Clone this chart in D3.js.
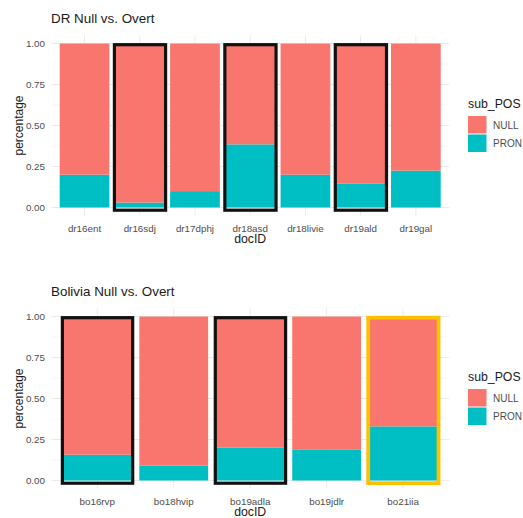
<!DOCTYPE html>
<html lang="en">
<head>
  <meta charset="UTF-8">
  <title>Null vs. Overt</title>
  <style>
    body { margin: 0; background: #fff; }
    text { font-family: "Liberation Sans", Arial, sans-serif; }
  </style>
</head>
<body>
  <script src="https://d3js.org/d3.v7.min.js"></script>
  <script>
    // data
    let drDocs = ["dr16ent", "dr16sdj", "dr17dphj", "dr18asd", "dr18livie", "dr19ald", "dr19gal"];
    let drPron = [0.20, 0.03, 0.10, 0.385, 0.20, 0.147, 0.225];
    let drMarked = ["dr16sdj", "dr18asd", "dr19ald"];

    let boDocs = ["bo16rvp", "bo18hvip", "bo19adla", "bo19jdlr", "bo21iia"];
    let boPron = [0.157, 0.09, 0.20, 0.187, 0.33];
    let boMarked = ["bo16rvp", "bo19adla"];
    let boGold = ["bo21iia"];

    let subPos = ["NULL", "PRON"];
    let yTicks = [0, 0.25, 0.5, 0.75, 1];

    let colors = { NULL: "#F8766D", PRON: "#00BFC4" };

    let svg = d3.select("body")
      .append("svg")
      .attr("width", 523)
      .attr("height", 518);

    function drawPanel(top, title, docs, pron, marked, gold) {
      let g = svg.append("g");

      let panelLeft = 51.4, panelRight = 449;
      let y = d3.scaleLinear().domain([0, 1]).range([top + 172.5, top + 8.5]);
      let panelTop = y(1.05), panelBottom = y(-0.05);

      let x = d3.scaleBand()
        .domain(docs)
        .range([panelLeft, panelRight])
        .paddingInner(0.1)
        .paddingOuter(0.15);

      // grid
      let minor = [0.125, 0.375, 0.625, 0.875];
      g.selectAll(".minor").data(minor).enter().append("line")
        .attr("x1", panelLeft).attr("x2", panelRight)
        .attr("y1", d => y(d)).attr("y2", d => y(d))
        .attr("stroke", "#f3f3f3").attr("stroke-width", 0.6);
      g.selectAll(".major").data(yTicks).enter().append("line")
        .attr("x1", panelLeft).attr("x2", panelRight)
        .attr("y1", d => y(d)).attr("y2", d => y(d))
        .attr("stroke", "#ebebeb").attr("stroke-width", 1);
      g.selectAll(".vgrid").data(docs).enter().append("line")
        .attr("x1", d => x(d) + x.bandwidth() / 2).attr("x2", d => x(d) + x.bandwidth() / 2)
        .attr("y1", panelTop).attr("y2", panelBottom)
        .attr("stroke", "#ebebeb").attr("stroke-width", 1);

      // stacked bars
      let rows = docs.map((d, i) => ({ doc: d, PRON: pron[i], NULL: 1 - pron[i] }));
      let stack = d3.stack().keys(["PRON", "NULL"])(rows);
      g.selectAll(".layer").data(stack).enter().append("g")
        .attr("fill", s => colors[s.key])
        .selectAll("rect").data(s => s).enter().append("rect")
        .attr("x", d => x(d.data.doc))
        .attr("width", x.bandwidth())
        .attr("y", d => y(d[1]))
        .attr("height", d => y(d[0]) - y(d[1]));

      // hand-drawn highlight boxes
      function box(list, color, w) {
        g.selectAll(null).data(list).enter().append("rect")
          .attr("x", d => x(d) - 0.5)
          .attr("width", x.bandwidth() + 1.5)
          .attr("y", y(1) + 1.2)
          .attr("height", y(0) - y(1) + 1.5)
          .attr("fill", "none")
          .attr("stroke", color)
          .attr("stroke-width", w);
      }
      box(marked, "#111", 3.2);
      box(gold, "#FFC000", 3.8);

      // y axis labels
      g.selectAll(".ytick").data(yTicks).enter().append("text")
        .attr("x", 45).attr("y", d => y(d)).attr("dy", "0.35em")
        .attr("text-anchor", "end")
        .attr("font-size", 9.8).attr("fill", "#4d4d4d")
        .text(d3.format(".2f"));

      // x axis labels
      g.selectAll(".xtick").data(docs).enter().append("text")
        .attr("x", d => x(d) + x.bandwidth() / 2)
        .attr("y", panelBottom + 16)
        .attr("text-anchor", "middle")
        .attr("font-size", 9.8).attr("fill", "#4d4d4d")
        .text(d => d);

      g.append("text")
        .attr("x", (panelLeft + panelRight) / 2)
        .attr("y", panelBottom + 27.5)
        .attr("text-anchor", "middle")
        .attr("font-size", 12.3).attr("fill", "#1a1a1a")
        .text("docID");

      g.append("text")
        .attr("transform", "translate(22.5," + y(0.5) + ") rotate(-90)")
        .attr("text-anchor", "middle")
        .attr("font-size", 12).attr("fill", "#1a1a1a")
        .text("percentage");

      g.append("text")
        .attr("x", 51).attr("y", top - 12)
        .attr("font-size", 13.4).attr("fill", "#1a1a1a")
        .text(title);

      // legend
      let lg = g.append("g").attr("transform", "translate(468," + (top + 73) + ")");
      lg.append("text").attr("x", 0).attr("y", 0)
        .attr("font-size", 12.3).attr("fill", "#1a1a1a").text("sub_POS");
      lg.selectAll(".key").data(subPos).enter().append("rect")
        .attr("x", 0).attr("y", (d, i) => 8 + i * 18.5)
        .attr("width", 18.5).attr("height", 17.5)
        .attr("fill", d => colors[d]);
      lg.selectAll(".klab").data(subPos).enter().append("text")
        .attr("x", 25).attr("y", (d, i) => 17 + i * 18.5).attr("dy", "0.35em")
        .attr("font-size", 10).attr("fill", "#4d4d4d").text(d => d);
    }

    drawPanel(35, "DR Null vs. Overt", drDocs, drPron, drMarked, []);
    drawPanel(308, "Bolivia Null vs. Overt", boDocs, boPron, boMarked, boGold);
  </script>
</body>
</html>
